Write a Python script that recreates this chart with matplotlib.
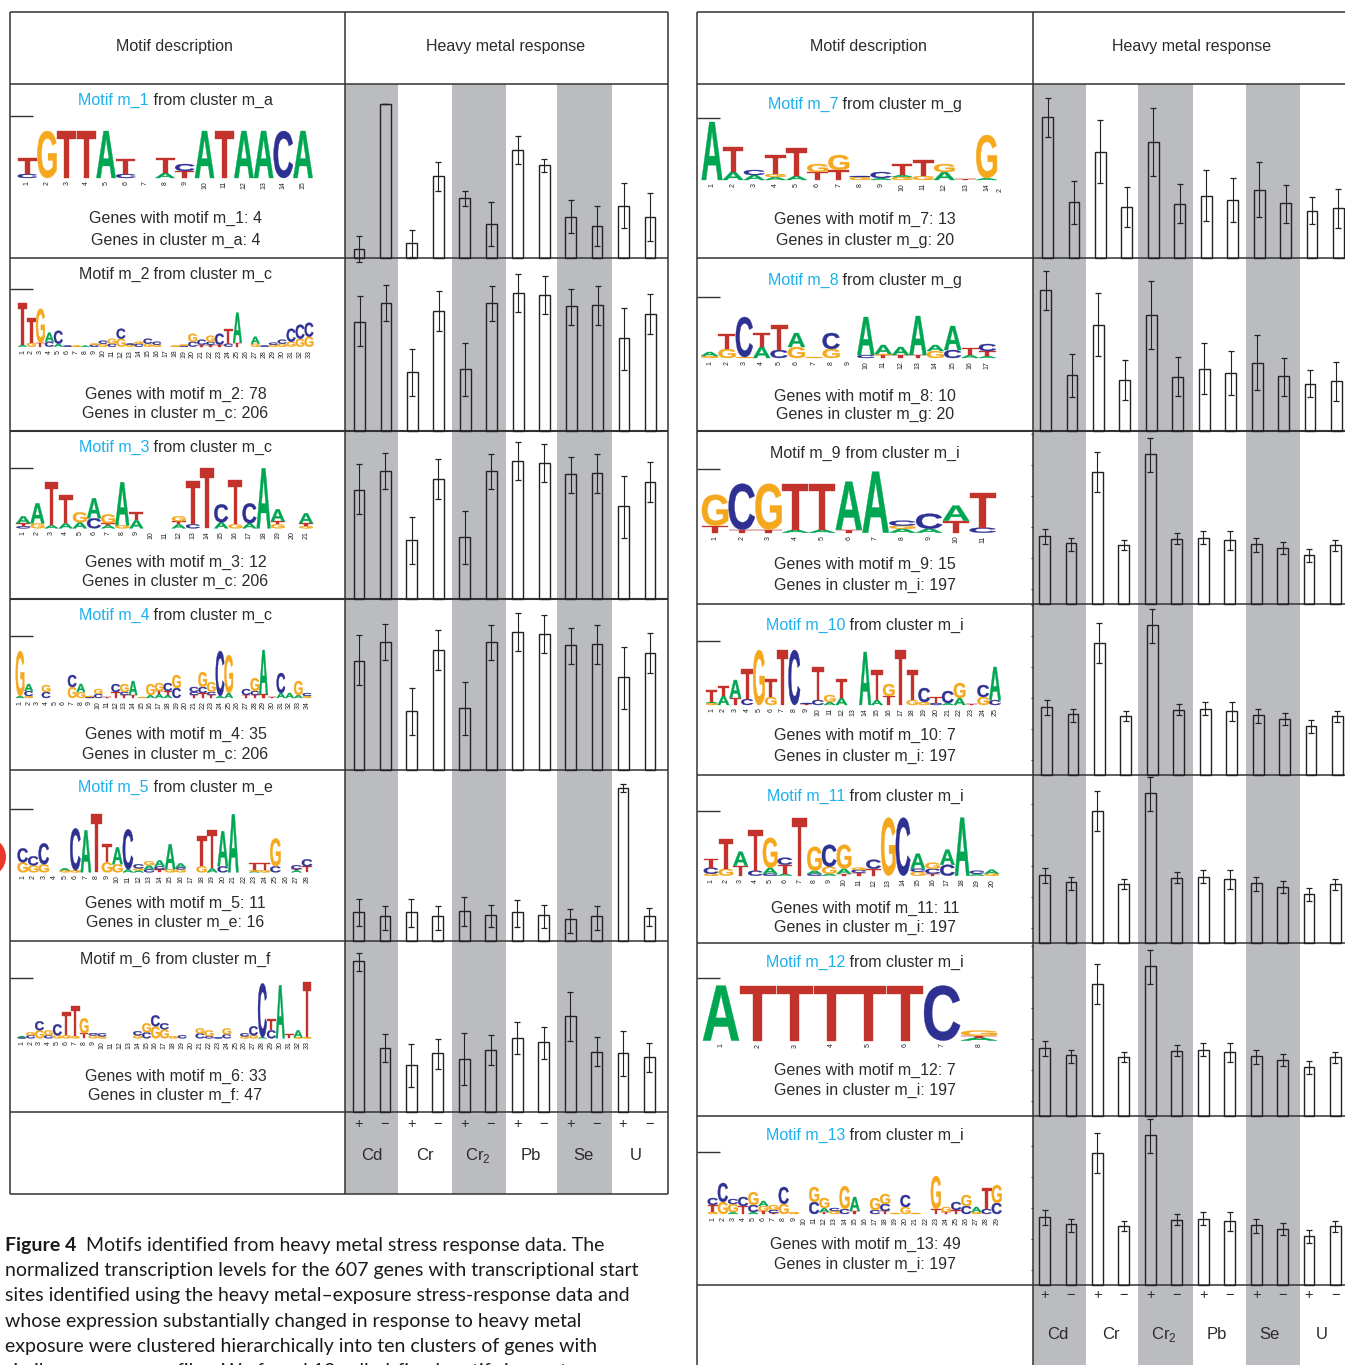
import matplotlib
matplotlib.use('Agg')
import matplotlib.pyplot as plt
from matplotlib.font_manager import FontProperties
from matplotlib.patches import PathPatch, Circle, Rectangle
from matplotlib.textpath import TextPath
from matplotlib.transforms import Affine2D

plt.rcParams['font.family'] = ['Liberation Sans', 'DejaVu Sans']
plt.rcParams['mathtext.fontset'] = 'custom'
plt.rcParams['mathtext.rm'] = 'Liberation Sans'

W, H = 1345, 1365

# bar heights and error limits for each cluster
m_a_mean = [9, 154, 15, 82, 60, 34, 108, 93, 41, 32, 52, 41]
m_a_low = [-4, 154, 1, 67, 52, 12, 94, 86, 25, 12, 30, 17]
m_a_high = [22, 154, 28, 96, 67, 56, 122, 99, 58, 52, 75, 65]

m_c_mean = [109, 128, 59, 120, 62, 128, 138, 136, 125, 126, 93, 117]
m_c_low = [85, 110, 35, 100, 35, 110, 119, 117, 106, 106, 61, 97]
m_c_high = [135, 146, 82, 140, 88, 145, 157, 155, 142, 145, 123, 137]

m_e_mean = [29, 25, 29, 25, 30, 26, 29, 26, 22, 25, 153, 25]
m_e_low = [15, 11, 14, 11, 15, 14, 14, 13, 8, 11, 149, 15]
m_e_high = [42, 35, 42, 35, 44, 36, 41, 36, 32, 35, 157, 33]

m_f_mean = [151, 64, 47, 59, 53, 62, 74, 70, 96, 60, 59, 55]
m_f_low = [141, 50, 25, 43, 27, 47, 58, 53, 71, 46, 36, 40]
m_f_high = [159, 78, 68, 73, 79, 77, 90, 85, 120, 75, 81, 69]

m_g_mean = [141, 56, 106, 51, 116, 54, 62, 58, 68, 55, 47, 50]
m_g_low = [121, 34, 75, 31, 82, 35, 37, 36, 41, 35, 34, 30]
m_g_high = [160, 77, 138, 71, 150, 74, 88, 80, 96, 73, 61, 69]

m_i_mean = [68, 61, 132, 59, 150, 65, 66, 64, 60, 56, 49, 59]
m_i_low = [60, 53, 112, 54, 132, 60, 60, 54, 52, 50, 42, 53]
m_i_high = [75, 66, 152, 64, 166, 71, 73, 73, 66, 62, 55, 64]

signs = ['+', '\u2212'] * 6
metals = ['Cd', 'Cr', r'Cr$_{\mathrm{2}}$', 'Pb', 'Se', 'U']

# logos: one string per position, letter+height from the bottom of the stack up
logo_1 = ['C4 T16', 'G47', 'T47', 'T47', 'A47', 'C4 T15', '', 'A5 T15', 'T7 C7', 'A47', 'T47', 'A47', 'A47', 'C47', 'A47']
logo_2 = ['A2 T42', 'G4 T25', 'T4 G34', 'C5 A9', 'A3 C13', 'C1', 'G1', 'A1', 'C2 G1', 'G3 C3', 'C3 G5', 'G8 C10',
          'G2 C1', 'C3 G2', 'G3 C5', 'G2 C3', '', 'G1', 'C1 G1', 'C5 G8', 'T2 C5', 'T2 C3 G6', 'T2 C11', 'C3 T15',
          'T4 A30', '', 'G3 A7', 'C1', 'G2 C2', 'G3 C4', 'G5 C13', 'G8 C14', 'G10 C14']
logo_3 = ['C2 T3 A7', 'G5 A20', 'A3 T43', 'A5 T28', 'A6 G10', 'C10 A20', 'A3 T2 G9', 'G3 A43', 'A8 T8', '', '',
          'A4 T3 G5', 'C4 T43', 'T60', 'A6 C18', 'G4 T44', 'A5 C20', 'A60', 'G4 T3 A12', '', 'G2 T3 A10']
logo_4 = ['A2 G45', 'G2 C5 A7', '', 'C6 G7', '', '', 'G11 C12', 'G6 A8', 'C1 G1', 'C4 G5', 'T1', 'T6 C8', 'T3 C3 G8',
          'T3 A14', 'G1', 'A3 G11', 'A4 T3 G8', 'A3 T4 C8', 'C10 G13', '', 'T3 C3 C5', 'T5 C6 G15', 'T3 C3 G10',
          'A2 C45', 'A5 G38', '', 'T3 C6', 'T3 C4 G13', 'T4 A44', 'T1', 'A5 C20', 'A5', 'A3 G14', 'G2 C3']
logo_5 = ['G10 C14', 'G7 C9', 'G8 C21', '', 'G2 A2', 'G2 C42', 'A42', 'T58', 'G10 T18', 'G8 A17', 'A3 C40', 'A2 G2 C4',
          'C3 A4 G4', 'T3 C3 A6', 'G3 A25', 'G3 C2 A4', '', 'G6 T30', 'A4 T38', 'C6 A35', 'A58', '', 'A1 G1 T7',
          'G2 T7', 'C6 G28', '', 'A2 T1 C4', 'T6 C7']
logo_6 = ['C1 A1', 'C3 G3', 'G8 C9', 'C3 G5', 'G3 C11', 'G3 T23', 'G2 T30', 'T5 G15', 'G3 C2', 'G2 C3', '', '', '',
          'G3 C4', 'C6 G9', 'G12 C11', 'G9 C6', 'G2', 'C3', '', 'C5 G5', 'C2 G6', 'C1', 'C4 G6', '', 'G2 C3', 'G3 C9',
          'A1 C54', 'C8 T11', 'A53', 'T4', 'G1 A7', 'G1 T55']
logo_7 = ['A58', 'A8 T25', 'A5 C5', 'A3 G3 T19', 'A4 T28', 'T8 G8', 'T10 G15', 'G3 C1', 'A2 C6', 'G3 A2 T11', 'G4 T16',
          'A8 G8', 'T1', 'A2 G43']
logo_8 = ['G2 A4', 'G9 T15', 'G1 C40', 'A11 T14', 'C8 T25', 'G11 A14', 'G1', 'G9 C16', '', 'C3 A38', 'T3 G1 A9', 'T3 A8',
          'T3 A39', 'G7 A6', 'C8 A24', 'A3 T7', 'A2 T5 C7']
logo_9 = ['T7 G31', 'T3 C46', 'T3 G46', 'A3 T46', 'A3 T46', 'T3 A48', 'A61', 'A4 G3 C5', 'A4 C15', 'T12 A15', 'C5 T35']
logo_10 = ['G2 A1 T12', 'A9 T10', 'T7 A18', 'C6 T30', 'G55', 'G8 T18', 'T55', 'C55', 'T1 C1', 'C5 T33', 'A3 G7',
           'A7 T19', '', 'A53', 'A5 T30', 'T9 G12', 'T55', 'G5 T30', 'G3 C14', 'C2 T6', 'A2 C12', 'A7 G15', 'T1',
           'G8 C12', 'C5 A33']
logo_11 = ['G2 C6 T9', 'G7 T30', 'T10 A14', 'C5 T41', 'C2 A6 G30', 'A2 T9 C7', 'T58', 'C2 A3 G24', 'A2 G7 C22',
           'T2 A5 G24', 'T3 C3 G2', 'T7 C9', 'G58', 'C58', 'G4 C3 A15', 'T2 C5 G6', 'C11 A15', 'A58', 'A2 C3', 'G2 A4']
logo_12 = ['A55', 'T55', 'T55', 'T55', 'T55', 'T55', 'C55', 'A3 T2 G5']
logo_13 = ['G2 T7 C7', 'G12 C19', 'A2 G8 C5', 'T8 C9', 'A2 C7 G13', 'T3 G5 A5', 'T1 C3 G5', 'G10 C17', 'G2', '',
           'C12 G15', 'T2 A4 G10', 'G3 C3', 'C5 G23', 'T3 A14', '', 'C4 G12', 'T3 C7 G10', 'G1', 'G7 C12', 'G1', '',
           'T5 G33', 'T2 G5', 'T4 C8', 'C8 G11', 'G2 A5', 'C5 T21', 'C11 G18']

caption = ['normalized transcription levels for the 607 genes with transcriptional start',
           'sites identified using the heavy metal\u2013exposure stress-response data and',
           'whose expression substantially changed in response to heavy metal',
           'exposure were clustered hierarchically into ten clusters of genes with',
           'similar response profiles. We found 13 called-fixed motifs in most']

# name, cluster, genes with motif, genes in cluster, blue title
motif_names = ['m_%d' % i for i in range(1, 14)]
cluster_names = ['m_a', 'm_c', 'm_c', 'm_c', 'm_e', 'm_f', 'm_g', 'm_g', 'm_i', 'm_i', 'm_i', 'm_i', 'm_i']
genes_with = [4, 78, 12, 35, 11, 33, 13, 10, 15, 7, 11, 7, 49]
genes_in = [4, 206, 206, 206, 16, 47, 20, 20, 197, 197, 197, 197, 197]
blue_title = [True, False, True, True, True, False, True, True, False, True, True, True, True]

cluster_bars = {'m_a': (m_a_mean, m_a_low, m_a_high), 'm_c': (m_c_mean, m_c_low, m_c_high),
                'm_e': (m_e_mean, m_e_low, m_e_high), 'm_f': (m_f_mean, m_f_low, m_f_high),
                'm_g': (m_g_mean, m_g_low, m_g_high), 'm_i': (m_i_mean, m_i_low, m_i_high)}
logos = [logo_1, logo_2, logo_3, logo_4, logo_5, logo_6, logo_7, logo_8, logo_9, logo_10, logo_11, logo_12, logo_13]

# layout in pixels, one entry per motif
row_top = [84, 258, 431, 599, 770, 941, 84, 258, 431, 604, 775, 943, 1116]
row_bottom = [258, 431, 599, 770, 941, 1112, 258, 431, 604, 775, 943, 1116, 1285]
bar_x0 = [359, 359.5, 359, 359, 358.5, 358.5, 1047.5, 1045.5, 1044.5, 1046.5, 1044.5, 1044.5, 1044.5]
title_y = [100.5, 274.5, 447.5, 615.5, 787.5, 959.5, 104.5, 280.5, 453.5, 625.5, 796.5, 962.5, 1135.5]
line1_y = [218.5, 394.5, 562.5, 734.5, 903.5, 1076.5, 219.5, 396.5, 564.5, 735.5, 908.5, 1070.5, 1244.5]
line2_y = [240.5, 413.5, 581.5, 754.5, 922.5, 1095.5, 240.5, 414.5, 585.5, 756.5, 927.5, 1090.5, 1264.5]
dash_y = [116, 289, 468, 636, 809, 978, 118, 297, 469, 641, 811, 978, 1152]
logo_x = [27.3, 22.5, 23.3, 20, 22.7, 21.7, 712, 709.6, 715, 711.7, 711, 721, 712.7]
logo_end = [303, 309, 306, 307, 307, 307, 986.6, 987.4, 982.7, 995, 991.7, 979, 996.7]
logo_base = [178, 346.7, 528.3, 698, 872.3, 1038.3, 180, 358, 532.7, 705, 875.7, 1040.6, 1214]

BLUE = '#1cb0ed'
INK = '#2b2b2b'
GREY = '#bbbcc0'
SPACING = 26.45
TEXT_SIZE = 11.5
CAPTION_SIZE = 14
letter_colors = {'A': '#00a651', 'C': '#2e3192', 'G': '#f5a81c', 'T': '#c4322c'}
logo_font = FontProperties(family='Liberation Sans', weight='bold')

fig = plt.figure(figsize=(W / 100, H / 100), dpi=100)
page = fig.add_axes([0, 0, 1, 1], zorder=0)
page.set_xlim(0, W)
page.set_ylim(H, 0)
page.axis('off')


def draw_letter(ax, letter, x, bottom, w, h):
    path = TextPath((0, 0), letter, size=1, prop=logo_font)
    box = path.get_extents()
    tr = Affine2D().translate(-box.x0, -box.y0).scale(w / box.width, -h / box.height).translate(x - w / 2, bottom)
    c = letter_colors[letter]
    ax.add_patch(PathPatch(path, transform=tr + ax.transData, fc=c, ec=c, lw=0.25, zorder=3))


def draw_logo(ax, stacks, x0, x1, base):
    step = (x1 - x0) / (len(stacks) - 1)
    for i, stack in enumerate(stacks):
        x = x0 + i * step
        y = base
        for item in stack.split():
            h = float(item[1:])
            draw_letter(ax, item[0], x, y, step * 0.98, h)
            y -= h
        ax.text(x, base + 3, str(i + 1), rotation=90, ha='center', va='top', fontsize=5, color='#222222')


def two_color_title(ax, x, y, first, second, color):
    r = fig.canvas.get_renderer()
    a = ax.text(0, y, first, fontsize=TEXT_SIZE, color=color, va='center', ha='left')
    b = ax.text(0, y, second, fontsize=TEXT_SIZE, color=INK, va='center', ha='left')
    wa = a.get_window_extent(r).width
    wb = b.get_window_extent(r).width
    a.set_x(x - (wa + wb) / 2)
    b.set_x(x - (wa + wb) / 2 + wa)


def hline(y, x0, x1, lw=1.1):
    page.plot([x0, x1], [y, y], color='#333333', lw=lw, solid_capstyle='butt', zorder=4)


def vline(x, y0, y1, lw=1.1):
    page.plot([x, x], [y0, y1], color='#333333', lw=lw, solid_capstyle='butt', zorder=4)


# grey metal bands
for x0, x1 in [(345, 398), (452, 506), (557, 612)]:
    page.add_patch(Rectangle((x0, 84), x1 - x0, 1194 - 84, fc=GREY, lw=0, zorder=1))
for x0, x1 in [(1033, 1086), (1138, 1193), (1246, 1300)]:
    page.add_patch(Rectangle((x0, 84), x1 - x0, H - 84, fc=GREY, lw=0, zorder=1))

# table frames
hline(12, 9.5, 668)
hline(84, 9.5, 668)
hline(1194, 9.5, 668)
vline(9.5, 12, 1194)
vline(345, 12, 1194)
vline(668, 12, 1194)
hline(12, 696.5, W)
hline(84, 696.5, W)
vline(696.5, 12, H)
vline(1032.5, 12, H)
for col_mid, resp_mid in [(174, 506), (868, 1192)]:
    page.text(col_mid, 47, 'Motif description', fontsize=TEXT_SIZE, color=INK, ha='center', va='center')
    page.text(resp_mid, 47, 'Heavy metal response', fontsize=TEXT_SIZE, color=INK, ha='center', va='center')

for i, name in enumerate(motif_names):
    left_panel = i < 6
    box_x0 = 9.5 if left_panel else 696.5
    div_x = 345 if left_panel else 1032.5
    box_x1 = 668 if left_panel else W
    text_x = 175.5 if left_panel else 865
    hline(row_bottom[i], box_x0, box_x1, lw=1.5 if row_bottom[i] in (431, 599) else 1.1)
    hline(dash_y[i], box_x0, box_x0 + 23, lw=1.0)

    cluster = cluster_names[i]
    two_color_title(page, text_x, title_y[i], 'Motif ' + name, ' from cluster ' + cluster,
                    BLUE if blue_title[i] else INK)
    page.text(text_x, line1_y[i], 'Genes with motif %s: %d' % (name, genes_with[i]), fontsize=TEXT_SIZE, color=INK,
              ha='center', va='center')
    page.text(text_x, line2_y[i], 'Genes in cluster %s: %d' % (cluster, genes_in[i]), fontsize=TEXT_SIZE, color=INK,
              ha='center', va='center')
    draw_logo(page, logos[i], logo_x[i], logo_end[i], logo_base[i])

    # one axes per row, the y unit is a pixel of the original figure
    h = row_bottom[i] - row_top[i]
    ax = fig.add_axes([div_x / W, 1 - row_bottom[i] / H, (box_x1 - div_x) / W, h / H], zorder=2)
    ax.patch.set_visible(False)
    for s in ax.spines.values():
        s.set_visible(False)
    ax.set_xlim((div_x - bar_x0[i]) / SPACING, (box_x1 - bar_x0[i]) / SPACING)
    ax.set_ylim(0, h)
    mean, low, high = cluster_bars[cluster]
    xs = list(range(len(mean)))
    ax.bar(xs, mean, width=0.41, fill=False, edgecolor='#222222', linewidth=1.0)
    ax.errorbar(xs, mean, yerr=[[m - l for m, l in zip(mean, low)], [u - m for m, u in zip(mean, high)]],
                fmt='none', ecolor='#222222', elinewidth=0.8, capsize=1.9, capthick=0.9)
    ax.set_xticks([])
    if i >= 8:
        ax.set_yticks(range(15, h, 31))
        ax.tick_params(axis='y', length=1.5, width=0.7, direction='out', labelleft=False, color='#333333')
    else:
        ax.set_yticks([])
    for c in ax.get_children():
        c.set_clip_on(False)

# stray digit left of the m_7 logo's last position in the reference
page.text(1000, 188, '2', rotation=90, ha='center', va='top', fontsize=5, color='#222222')

# footers with the +/- and metal labels
for div_x, box_x1, x0, top, bottom, sign_pad in [(345, 668, 358.5, 1112, 1194, 4), (1032.5, W, 1044.5, 1285, H, 2)]:
    ax = fig.add_axes([div_x / W, 1 - bottom / H, (box_x1 - div_x) / W, (bottom - top) / H], zorder=2)
    ax.patch.set_visible(False)
    for s in ax.spines.values():
        s.set_visible(False)
    ax.set_xlim((div_x - x0) / SPACING, (box_x1 - x0) / SPACING)
    ax.set_ylim(bottom - top, 0)
    ax.xaxis.tick_top()
    ax.set_xticks(range(12), signs, fontsize=10.5, color=INK)
    ax.tick_params(axis='x', length=0, pad=-10 - sign_pad, labeltop=True, labelbottom=False)
    ax.set_yticks([])
    for k, metal in enumerate(metals):
        ax.text(2 * k + 0.5, 43.5 if top == 1112 else 49.5, metal, fontsize=12, color=INK, ha='center', va='center')

# red dot cut by the page edge
page.add_patch(Circle((-14, 857), 20, fc='#e8392b', lw=0, zorder=5))

# caption
caption_y = [1245, 1270.5, 1295.5, 1321, 1346.5, 1372]
page.text(5, caption_y[0], 'Figure 4', fontsize=CAPTION_SIZE, fontweight='bold', family='Lato', color='#1a1a1a', va='center')
page.text(86, caption_y[0], 'Motifs identified from heavy metal stress response data. The', fontsize=CAPTION_SIZE,
          family='Lato', color='#1a1a1a', va='center')
for line, y in zip(caption, caption_y[1:]):
    page.text(5, y, line, fontsize=CAPTION_SIZE, family='Lato', color='#1a1a1a', va='center')

fig.savefig('out.png', dpi=100)
